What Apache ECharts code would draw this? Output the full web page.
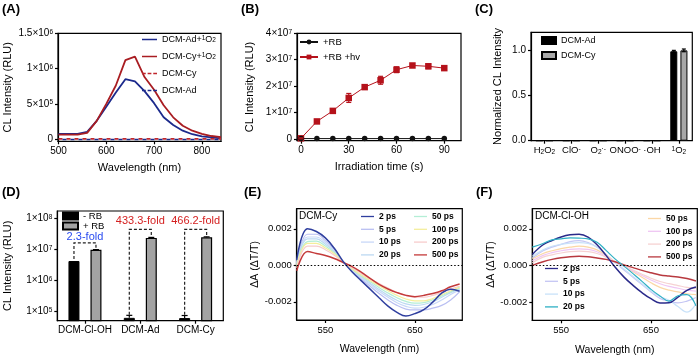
<!DOCTYPE html>
<html>
<head>
<meta charset="utf-8">
<script src="https://cdn.jsdelivr.net/npm/echarts@6/dist/echarts.min.js"></script>
<style>html,body{margin:0;padding:0;background:#fff}#chart{width:700px;height:359px}</style>
</head>
<body>
<div id="chart"></div>
<script>
// (A) CL spectra
var aWave=[500,520,540,560,580,600,620,640,660,680,700,720,740,760,780,800,820,840];
var aAdO2=[75000,75000,75000,105000,260000,460000,660000,850000,820000,680000,510000,310000,200000,120000,70000,40000,25000,12000];
var aCyO2=[65000,65000,65000,90000,260000,500000,760000,1120000,1170000,880000,700000,480000,310000,190000,120000,75000,45000,30000];
var aCy=[5000,5000,5000,5000,5000,5000,5000,5000,5000,5000,5000,5000,5000,5000,5000,5000,5000,5000];
var aAd=[-4000,-4000,-4000,-4000,-4000,-4000,-4000,-4000,-4000,-4000,-4000,-4000,-4000,-4000,-4000,-4000,-4000,-4000];
var aXTicks=[500,600,700,800];
var aYTicks=[0,500000,1000000,1500000];

// (B) irradiation time
var bTime=[0,10,20,30,40,50,60,70,80,90];
var bRB=[100000,100000,100000,100000,100000,100000,100000,100000,100000,100000];
var bRBhv=[200000,6600000,10600000,15500000,19600000,22200000,26200000,27800000,27500000,26800000];
var bRBhvErr=[200000,400000,300000,1700000,600000,1500000,1100000,500000,900000,400000];
var bXTicks=[0,30,60,90];
var bYTicks=[0,10000000,20000000,30000000,40000000];

// (C) selectivity
var cCats=['H2O2','ClO-','O2-','ONOO-','OH','1O2'];
var cLabels=['H{sub|2}O{sub|2}','ClO{sup|-}','O{sub|2}{sup|·-}','ONOO{sup|-}','·OH','{sup|1}O{sub|2}'];
var cAd=[0,0,0,0,0,0.99];
var cAdErr=[0,0,0,0,0,0.01];
var cCy=[0,0,0,0,0,1.0];
var cCyErr=[0,0,0,0,0,0.015];
var cYTicks=[0,0.5,1.0];

// (D) fold change
var dCats=['DCM-Cl-OH','DCM-Ad','DCM-Cy'];
var dMinus=[4300000,63000,62000];
var dMinusErr=[0,13000,13000];
var dPlus=[9900000,24000000,25000000];
var dPlusErr=[150000,900000,900000];
var dYTicks=[100000,1000000,10000000,100000000];
var foldText=['2.3-fold','433.3-fold','466.2-fold'];
var foldColor=['#2a4cf0','#d42020','#d42020'];
var foldStart=[5000000,79000,79000];
var foldTop=[16600000,45000000,45000000];
var foldEnd=[11500000,29500000,29500000];
var foldLabelY=[26000000,85000000,85000000];

// (E)/(F) transient absorption, units of 1e-3
var taWave=[518,530,540,550,560,570,580,590,600,610,620,630,640,650,660,670,680,690,700];
var taDelays=['2 ps','5 ps','10 ps','20 ps','50 ps','100 ps','200 ps','500 ps'];
var eCy=[
  [0.3,2.0,1.85,1.5,0.93,0.2,-0.37,-0.84,-1.31,-1.78,-2.24,-2.58,-2.78,-2.65,-2.43,-2.02,-1.53,-1.31,-1.42],
  [0.15,1.7,1.7,1.35,0.85,0.2,-0.3,-0.75,-1.15,-1.55,-1.9,-2.2,-2.4,-2.45,-2.45,-2.35,-2.2,-1.9,-1.45],
  [0.1,1.55,1.55,1.25,0.8,0.2,-0.27,-0.68,-1.05,-1.42,-1.75,-2.05,-2.25,-2.35,-2.3,-2.15,-1.9,-1.6,-1.35],
  [0.05,1.45,1.45,1.15,0.75,0.2,-0.25,-0.62,-0.98,-1.33,-1.65,-1.92,-2.12,-2.2,-2.15,-2.0,-1.75,-1.5,-1.3],
  [0.0,1.3,1.32,1.05,0.7,0.19,-0.22,-0.57,-0.9,-1.22,-1.52,-1.78,-1.98,-2.08,-2.05,-1.9,-1.68,-1.45,-1.25],
  [-0.05,1.2,1.2,0.95,0.63,0.18,-0.2,-0.52,-0.83,-1.12,-1.4,-1.65,-1.85,-1.95,-1.95,-1.82,-1.62,-1.4,-1.2],
  [-0.15,1.05,1.05,0.85,0.55,0.17,-0.15,-0.45,-0.75,-1.0,-1.25,-1.48,-1.65,-1.75,-1.75,-1.65,-1.48,-1.3,-1.15],
  [-0.3,0.75,0.65,0.54,0.37,0.15,-0.07,-0.37,-0.72,-1.05,-1.3,-1.5,-1.65,-1.72,-1.65,-1.55,-1.4,-1.18,-1.03]
];
var fClOH=[
  [0.6,1.13,1.36,1.55,1.67,1.7,1.55,1.13,0.55,-0.09,-0.64,-1.09,-1.49,-1.82,-2.05,-2.04,-1.73,-1.36,-1.18],
  [0.4,0.8,1.0,1.15,1.3,1.35,1.25,1.0,0.6,0.15,-0.25,-0.65,-1.05,-1.45,-1.8,-1.95,-2.05,-1.95,-1.75],
  [0.5,0.85,1.05,1.15,1.22,1.25,1.2,1.0,0.6,0.15,-0.2,-0.6,-1.0,-1.4,-1.7,-1.9,-2.25,-2.55,-2.1],
  [1.0,1.2,1.4,1.45,1.5,1.49,1.45,1.27,0.82,0.36,-0.04,-0.45,-0.87,-1.31,-1.67,-1.95,-1.66,-1.6,-2.2],
  [0.35,0.65,0.8,0.92,1.0,1.05,1.0,0.85,0.55,0.2,-0.05,-0.35,-0.65,-0.95,-1.2,-1.35,-1.45,-1.55,-1.6],
  [0.25,0.55,0.7,0.8,0.88,0.9,0.88,0.75,0.5,0.2,-0.05,-0.3,-0.55,-0.8,-1.0,-1.15,-1.25,-1.35,-1.4],
  [0.15,0.45,0.58,0.68,0.75,0.78,0.75,0.65,0.45,0.2,-0.02,-0.25,-0.48,-0.7,-0.88,-1.0,-1.1,-1.2,-1.25],
  [0.0,0.2,0.33,0.42,0.48,0.5,0.47,0.4,0.33,0.2,0.03,-0.12,-0.27,-0.4,-0.52,-0.58,-0.63,-0.72,-0.85]
];
var taXTicks=[550,650];
var taYTicks=[-2,0,2];
var eColors=['#2f3f9f','#b9bff2','#c8d8f8','#bcd9f2','#b4eed6','#f4ee9c','#f7cccc','#c43a3a'];
var fColors=['#2a2a8a','#c4c6f4','#c9e2f9','#2fb0c4','#fbd7a6','#efc6f3','#f6d2d2','#b8393f'];

var FONT='"Liberation Sans", Arial, Helvetica, sans-serif';
var rich={
  sup:{fontSize:6.5,lineHeight:7,verticalAlign:'top',fontFamily:FONT,color:'#000'},
  sub:{fontSize:6.5,lineHeight:7,verticalAlign:'bottom',fontFamily:FONT,color:'#000'}
};
var ICON_LINE='path://M0,0H20V2H0Z';
var ICON_DASH='path://M0,0H5V2H0ZM7.5,0H12.5V2H7.5ZM15,0H20V2H15Z';

function pairs(xs,ys){var out=[];for(var i=0;i<xs.length;i++)out.push([xs[i],ys[i]]);return out;}
function sci(v){
  if(v===0)return '0';
  var e=Math.floor(Math.log10(v)+1e-9);
  var m=Math.round(v/Math.pow(10,e)*10)/10;
  return m+'×10{sup|'+e+'}';
}
function grid(l,t,w,h){return {left:l,top:t,width:w,height:h,show:true,borderColor:'#000',borderWidth:1.2,backgroundColor:'rgba(0,0,0,0)',containLabel:false};}
function axisBase(gi,type,extra){
  var a={
    gridIndex:gi,type:type,
    axisLine:{show:true,onZero:false,lineStyle:{color:'#000',width:1.2}},
    axisTick:{show:true,length:3,inside:false,lineStyle:{color:'#000',width:1.2}},
    axisLabel:{color:'#000',fontSize:10,fontFamily:FONT,margin:5,rich:rich,hideOverlap:false},
    splitLine:{show:false},
    nameLocation:'middle',
    nameTextStyle:{color:'#000',fontSize:11,fontFamily:FONT}
  };
  for(var k in extra){
    if(typeof extra[k]==='object'&&!Array.isArray(extra[k])&&a[k]){for(var j in extra[k])a[k][j]=extra[k][j];}
    else a[k]=extra[k];
  }
  return a;
}

// error bars, offset = px shift from category centre
function errSeries(xi,data,color,offset,capW,both){
  return {
    type:'custom',xAxisIndex:xi,yAxisIndex:xi,data:data,z:6,silent:true,
    renderItem:function(params,api){
      var c=api.value(0),v=api.value(1),e=api.value(2);
      if(!e)return null;
      var hi=api.coord([c,v+e]),lo=api.coord([c,both?v-e:v]);
      var x=hi[0]+offset;
      var st={stroke:color,lineWidth:1.2};
      var ch=[
        {type:'line',shape:{x1:x,y1:hi[1],x2:x,y2:lo[1]},style:st},
        {type:'line',shape:{x1:x-capW,y1:hi[1],x2:x+capW,y2:hi[1]},style:st}
      ];
      if(both)ch.push({type:'line',shape:{x1:x-capW,y1:lo[1],x2:x+capW,y2:lo[1]},style:st});
      return {type:'group',children:ch};
    }
  };
}

var series=[];

// A
series.push({type:'line',name:'DCM-Ad+1O2',xAxisIndex:0,yAxisIndex:0,data:pairs(aWave,aAdO2),symbol:'none',lineStyle:{color:'#1c2a8c',width:1.8},itemStyle:{color:'#1c2a8c'}});
series.push({type:'line',name:'DCM-Cy+1O2',xAxisIndex:0,yAxisIndex:0,data:pairs(aWave,aCyO2),symbol:'none',lineStyle:{color:'#a91d22',width:1.8},itemStyle:{color:'#a91d22'}});
series.push({type:'line',name:'DCM-Cy',xAxisIndex:0,yAxisIndex:0,data:pairs(aWave,aCy),symbol:'none',lineStyle:{color:'#c0262c',width:1.6,type:[4,4]},itemStyle:{color:'#c0262c'}});
series.push({type:'line',name:'DCM-Ad',xAxisIndex:0,yAxisIndex:0,data:pairs(aWave,aAd),symbol:'none',lineStyle:{color:'#1c2a8c',width:1.6,type:[4,4],dashOffset:4},itemStyle:{color:'#1c2a8c'}});

// B
series.push({type:'line',name:'+RB',xAxisIndex:1,yAxisIndex:1,data:pairs(bTime,bRB),symbol:'circle',symbolSize:5.5,lineStyle:{color:'#111',width:1},itemStyle:{color:'#111'},z:4});
series.push({type:'line',name:'+RB +hv',xAxisIndex:1,yAxisIndex:1,data:pairs(bTime,bRBhv),symbol:'rect',symbolSize:6.5,lineStyle:{color:'#b5121b',width:1},itemStyle:{color:'#b5121b'},z:3});
var bErr=[];for(var i=0;i<bTime.length;i++)bErr.push([bTime[i],bRBhv[i],bRBhvErr[i]]);
series.push(errSeries(1,bErr,'#b5121b',0,2.5,true));

// C
series.push({type:'bar',name:'C DCM-Ad',xAxisIndex:2,yAxisIndex:2,data:cAd,barWidth:7,barGap:'45%',itemStyle:{color:'#000',borderColor:'#000',borderWidth:1}});
series.push({type:'bar',name:'C DCM-Cy',xAxisIndex:2,yAxisIndex:2,data:cCy,barWidth:7,itemStyle:{color:'#a8a8a8',borderColor:'#000',borderWidth:1}});
var cE1=[],cE2=[];for(i=0;i<cCats.length;i++){cE1.push([i,cAd[i],cAdErr[i]]);cE2.push([i,cCy[i],cCyErr[i]]);}
series.push(errSeries(2,cE1,'#000',-5,2,true));
series.push(errSeries(2,cE2,'#000',5,2,true));

// D
series.push({type:'bar',name:'- RB',xAxisIndex:3,yAxisIndex:3,data:dMinus,barWidth:11,barGap:'100%',clip:true,itemStyle:{color:'#000',borderColor:'#000',borderWidth:1}});
series.push({type:'bar',name:'+ RB',xAxisIndex:3,yAxisIndex:3,data:dPlus,barWidth:11,clip:true,itemStyle:{color:'#a3a3a3',borderColor:'#000',borderWidth:1.2}});
var dE1=[],dE2=[],dBr=[];
for(i=0;i<dCats.length;i++){dE1.push([i,dMinus[i],dMinusErr[i]]);dE2.push([i,dPlus[i],dPlusErr[i]]);dBr.push([i,foldStart[i],foldTop[i],foldEnd[i],foldLabelY[i]]);}
series.push(errSeries(3,dE1,'#000',-11,3,false));
series.push(errSeries(3,dE2,'#000',11,3,false));
series.push({
  type:'custom',xAxisIndex:3,yAxisIndex:3,data:dBr,z:7,silent:true,
  renderItem:function(params,api){
    var c=api.value(0);
    var s=api.coord([c,api.value(1)]),t=api.coord([c,api.value(2)]),e=api.coord([c,api.value(3)]),l=api.coord([c,api.value(4)]);
    var x1=s[0]-11,x2=s[0]+11;
    return {type:'group',children:[
      {type:'polyline',shape:{points:[[x1,s[1]],[x1,t[1]],[x2,t[1]],[x2,e[1]]]},style:{stroke:'#222',lineWidth:1.2,lineDash:[3,2],fill:null}},
      {type:'text',x:l[0],y:l[1],style:{text:foldText[params.dataIndex],fill:foldColor[params.dataIndex],fontSize:11,fontFamily:FONT,align:'center',verticalAlign:'middle'}}
    ]};
  }
});

// E, F
for(i=0;i<taDelays.length;i++){
  var wE=(i===0||i===7)?1.5:1.2;
  series.push({type:'line',name:'E '+taDelays[i],xAxisIndex:4,yAxisIndex:4,data:pairs(taWave,eCy[i]),symbol:'none',smooth:0.4,lineStyle:{color:eColors[i],width:wE},itemStyle:{color:eColors[i]},z:i===0?4:(i===7?3:2)});
  series.push({type:'line',name:'F '+taDelays[i],xAxisIndex:5,yAxisIndex:5,data:pairs(taWave,fClOH[i]),symbol:'none',smooth:0.4,lineStyle:{color:fColors[i],width:wE},itemStyle:{color:fColors[i]},z:(i===0||i===3)?4:(i===7?3:2)});
}
// zero reference lines
series.push({type:'line',xAxisIndex:4,yAxisIndex:4,data:[],markLine:{silent:true,symbol:'none',label:{show:false},lineStyle:{color:'#000',type:[1.5,2],width:1.2},data:[{yAxis:0}]}});
series.push({type:'line',xAxisIndex:5,yAxisIndex:5,data:[],markLine:{silent:true,symbol:'none',label:{show:false},lineStyle:{color:'#000',type:[1.5,2],width:1.2},data:[{yAxis:0}]}});

var legText={color:'#000',fontSize:9,fontFamily:FONT,rich:rich};
function taLegend(names,prefix,left,top){
  return {data:names.map(function(n){return {name:prefix+n,icon:ICON_LINE};}),left:left,top:top,orient:'vertical',itemWidth:13,itemHeight:2,itemGap:3.8,selectedMode:false,
    textStyle:{color:'#000',fontSize:8.5,fontFamily:FONT,fontWeight:'bold'},padding:0,
    formatter:function(n){return n.slice(2);}};
}

var option={
  animation:false,
  textStyle:{fontFamily:FONT},
  grid:[grid(58,33.3,163,108),grid(297,33.3,164,107.4),grid(531,32.3,161.3,108.4),grid(57.3,211,166,109.7),grid(296.7,208.7,165.6,111.3),grid(532.3,208.7,165,111.6)],
  xAxis:[
    axisBase(0,'value',{min:499,max:840,name:'Wavelength (nm)',nameGap:21,axisTick:{customValues:aXTicks},axisLabel:{customValues:aXTicks}}),
    axisBase(1,'value',{min:-2.5,max:100.5,name:'Irradiation time (s)',nameGap:21,axisTick:{customValues:bXTicks},axisLabel:{customValues:bXTicks}}),
    axisBase(2,'category',{data:cCats,axisTick:{alignWithLabel:true},axisLabel:{interval:0,fontSize:9.5,formatter:function(v,i){return cLabels[i];}}}),
    axisBase(3,'category',{data:dCats,axisTick:{alignWithLabel:true},axisLabel:{interval:0,fontSize:10}}),
    axisBase(4,'value',{min:518,max:703,name:'Wavelength (nm)',nameGap:24,nameTextStyle:{fontSize:10.5},axisTick:{customValues:taXTicks},axisLabel:{customValues:taXTicks,fontSize:9.5}}),
    axisBase(5,'value',{min:518,max:701.5,name:'Wavelength (nm)',nameGap:24,nameTextStyle:{fontSize:10.5},axisTick:{customValues:taXTicks},axisLabel:{customValues:taXTicks,fontSize:9.5}})
  ],
  yAxis:[
    axisBase(0,'value',{min:-30000,max:1500000,name:'CL Intensity (RLU)',nameGap:45,axisTick:{customValues:aYTicks},axisLabel:{customValues:aYTicks,formatter:sci}}),
    axisBase(1,'value',{min:-700000,max:40000000,name:'CL Intensity (RLU)',nameGap:42,axisTick:{customValues:bYTicks},axisLabel:{customValues:bYTicks,formatter:sci}}),
    axisBase(2,'value',{min:0,max:1.2,name:'Normalized CL Intensity',nameGap:28,axisTick:{customValues:cYTicks},axisLabel:{customValues:cYTicks,formatter:function(v){return v.toFixed(1);}}}),
    axisBase(3,'log',{logBase:10,min:51000,max:177000000,name:'CL Intensity (RLU)',nameGap:44,axisTick:{customValues:dYTicks},axisLabel:{customValues:dYTicks,formatter:sci}}),
    axisBase(4,'value',{min:-3.0,max:3.1,name:'ΔA (ΔT/T)',nameGap:26,nameTextStyle:{fontSize:10.5},axisTick:{customValues:taYTicks},axisLabel:{customValues:taYTicks,fontSize:9.5,formatter:function(v){return (v/1000).toFixed(3);}}}),
    axisBase(5,'value',{min:-3.0,max:3.1,name:'ΔA (ΔT/T)',nameGap:30,nameTextStyle:{fontSize:10.5},axisTick:{customValues:taYTicks},axisLabel:{customValues:taYTicks,fontSize:9.5,formatter:function(v){return (v/1000).toFixed(3);}}})
  ],
  legend:[
    {data:[{name:'DCM-Ad+1O2',icon:ICON_LINE},{name:'DCM-Cy+1O2',icon:ICON_LINE},{name:'DCM-Cy',icon:ICON_DASH},{name:'DCM-Ad',icon:ICON_DASH}],
      left:142,top:35,orient:'vertical',itemWidth:15,itemHeight:2,itemGap:8,selectedMode:false,padding:0,textStyle:legText,
      formatter:function(n){return n.replace('+1O2','+{sup|1}O{sub|2}');}},
    {data:['+RB','+RB +hv'],left:299,top:37,orient:'vertical',itemWidth:18,itemHeight:6,itemGap:5,selectedMode:false,padding:0,textStyle:{color:'#000',fontSize:9.5,fontFamily:FONT}},
    {data:['C DCM-Ad','C DCM-Cy'],left:541,top:36,orient:'vertical',icon:'rect',itemWidth:14,itemHeight:7,itemGap:6,selectedMode:false,padding:0,
      textStyle:{color:'#000',fontSize:9,fontFamily:FONT},formatter:function(n){return n.slice(2);}},
    {data:['- RB','+ RB'],left:62,top:211,orient:'vertical',icon:'rect',itemWidth:15,itemHeight:7,itemGap:0,selectedMode:false,padding:0,textStyle:{color:'#000',fontSize:9.5,fontFamily:FONT}},
    taLegend(taDelays.slice(0,4),'E ',361,212),
    taLegend(taDelays.slice(4),'E ',414,212),
    taLegend(taDelays.slice(0,4),'F ',545,264),
    taLegend(taDelays.slice(4),'F ',648,214)
  ],
  graphic:[
    {type:'text',left:2,top:3,style:{text:'(A)',fontSize:13,fontWeight:'bold',fontFamily:FONT,fill:'#000'}},
    {type:'text',left:241,top:3,style:{text:'(B)',fontSize:13,fontWeight:'bold',fontFamily:FONT,fill:'#000'}},
    {type:'text',left:475,top:3,style:{text:'(C)',fontSize:13,fontWeight:'bold',fontFamily:FONT,fill:'#000'}},
    {type:'text',left:2,top:186,style:{text:'(D)',fontSize:13,fontWeight:'bold',fontFamily:FONT,fill:'#000'}},
    {type:'text',left:244,top:186,style:{text:'(E)',fontSize:13,fontWeight:'bold',fontFamily:FONT,fill:'#000'}},
    {type:'text',left:476,top:186,style:{text:'(F)',fontSize:13,fontWeight:'bold',fontFamily:FONT,fill:'#000'}},
    {type:'text',left:299,top:211,style:{text:'DCM-Cy',fontSize:10,fontFamily:FONT,fill:'#000'}},
    {type:'text',left:535,top:211,style:{text:'DCM-Cl-OH',fontSize:10,fontFamily:FONT,fill:'#000'}}
  ],
  series:series
};

var chart=echarts.init(document.getElementById('chart'),null,{renderer:'canvas'});
chart.setOption(option);
</script>
</body>
</html>
